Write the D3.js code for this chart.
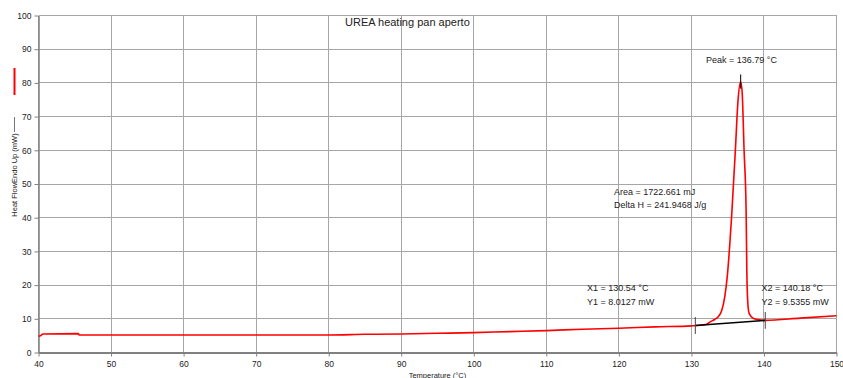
<!doctype html>
<html lang="en">
<head>
<meta charset="utf-8">
<title>UREA heating pan aperto</title>
<script src="https://cdn.jsdelivr.net/npm/d3@7"></script>
<style>
  body { margin: 0; background: #fff; }
  svg { display: block; font-family: "Liberation Sans", Arial, sans-serif; }
  .grid line { stroke: #a6a6a6; stroke-width: 1; shape-rendering: crispEdges; }
  .axis path, .axis line { stroke: #808080; }
  .axis text { font-size: 8.5px; fill: #222; }
  .note { font-size: 9px; fill: #222; }
</style>
</head>
<body>
<svg id="chart" width="843" height="378"></svg>
<script>
// temperature (°C) and heat flow (mW)
var temps = [40, 40.3, 40.6, 45.5, 45.6, 60, 70, 80, 85, 90, 95, 100, 105, 110, 115, 120, 125, 130,
  132, 132.6, 133.2, 133.7, 134.2, 134.6, 134.94, 135.3, 135.56, 136.06, 136.4, 136.79, 137.0,
  137.26, 137.54, 137.64, 137.78, 137.96, 138.55, 139.7, 140.18, 145, 150];
var heatFlow = [4.8, 5.0, 5.5, 5.6, 5.2, 5.2, 5.2, 5.2, 5.4, 5.5, 5.7, 5.9, 6.2, 6.5, 6.9, 7.2, 7.6, 7.9,
  8.3, 9.1, 9.8, 10.6, 12.6, 16.6, 22.5, 32.4, 41, 60, 74, 80.3, 77,
  60, 42.3, 24, 14.6, 11.6, 10.1, 9.6, 9.54, 10.2, 10.9];

var xTicks = [40, 50, 60, 70, 80, 90, 100, 110, 120, 130, 140, 150];
var yTicks = [0, 10, 20, 30, 40, 50, 60, 70, 80, 90, 100];

var peakT = 136.79, peakH = 80.3;
var x1 = 130.54, y1 = 8.0127, x2 = 140.18, y2 = 9.5355;
var area = 1722.661, deltaH = 241.9468;

var svg = d3.select("#chart");
var x = d3.scaleLinear().domain([40, 150]).range([38.5, 836.5]);
var y = d3.scaleLinear().domain([0, 100]).range([352.5, 15.5]);

// grid
var grid = svg.append("g").attr("class", "grid");
grid.selectAll(".gx").data(xTicks).enter().append("line")
  .attr("x1", d => x(d)).attr("x2", d => x(d))
  .attr("y1", y(0)).attr("y2", y(100));
grid.selectAll(".gy").data(yTicks).enter().append("line")
  .attr("x1", x(40)).attr("x2", x(150))
  .attr("y1", d => y(d)).attr("y2", d => y(d));

// axes
svg.append("g").attr("class", "axis")
  .attr("transform", "translate(0," + y(0) + ")")
  .call(d3.axisBottom(x).tickValues(xTicks).tickSize(4).tickPadding(4).tickSizeOuter(0))
  .call(g => g.select(".domain").attr("stroke-width", 2));
svg.append("g").attr("class", "axis")
  .attr("transform", "translate(" + x(40) + ",0)")
  .call(d3.axisLeft(y).tickValues(yTicks).tickSize(4).tickPadding(3).tickSizeOuter(0))
  .call(g => g.select(".domain").attr("stroke-width", 1.5));

// axis titles
svg.append("text").attr("x", x(95)).attr("y", 377.5).attr("text-anchor", "middle")
  .attr("font-size", 7.5).attr("fill", "#222").text("Temperature (°C)");
svg.append("text").attr("transform", "translate(17,175) rotate(-90)")
  .attr("text-anchor", "middle").attr("font-size", 7.5).attr("fill", "#222")
  .text("Heat FlowEndo Up (mW)");
svg.append("line").attr("x1", 14.5).attr("x2", 14.5).attr("y1", 68).attr("y2", 95)
  .attr("stroke", "#ff0000").attr("stroke-width", 2);
svg.append("line").attr("x1", 14.5).attr("x2", 14.5).attr("y1", 117).attr("y2", 132)
  .attr("stroke", "#777").attr("stroke-width", 1);

// title
svg.append("text").attr("x", 345).attr("y", 26).attr("font-size", 11).attr("fill", "#222")
  .text("UREA heating pan aperto");

// curve
var line = d3.line().x((d, i) => x(temps[i])).y(d => y(d)).curve(d3.curveMonotoneX);
svg.append("path").datum(heatFlow).attr("d", line)
  .attr("fill", "none").attr("stroke", "#ff0000").attr("stroke-width", 1.6)
  .attr("stroke-linejoin", "round");

// baseline and markers
svg.append("line").attr("x1", x(x1)).attr("y1", y(y1)).attr("x2", x(x2)).attr("y2", y(y2))
  .attr("stroke", "#000").attr("stroke-width", 1.6);
[[x1, y1], [x2, y2]].forEach(function(p) {
  svg.append("line").attr("x1", x(p[0])).attr("x2", x(p[0]))
    .attr("y1", y(p[1] + 2.5)).attr("y2", y(p[1] - 2.5))
    .attr("stroke", "#444").attr("stroke-width", 1);
});
svg.append("line").attr("x1", x(peakT)).attr("x2", x(peakT))
  .attr("y1", y(peakH - 2)).attr("y2", y(peakH + 2.2))
  .attr("stroke", "#000").attr("stroke-width", 1);

// annotations
function note(tx, ty, s) {
  svg.append("text").attr("class", "note").attr("x", tx).attr("y", ty).text(s);
}
note(706, 63, "Peak = " + peakT + " °C");
note(614, 195, "Area = " + area + " mJ");
note(614, 208, "Delta H = " + deltaH + " J/g");
note(587, 290.5, "X1 = " + x1 + " °C");
note(587, 305, "Y1 = " + y1 + " mW");
note(761.5, 290.5, "X2 = " + x2 + " °C");
note(761.5, 305, "Y2 = " + y2 + " mW");
</script>
</body>
</html>
